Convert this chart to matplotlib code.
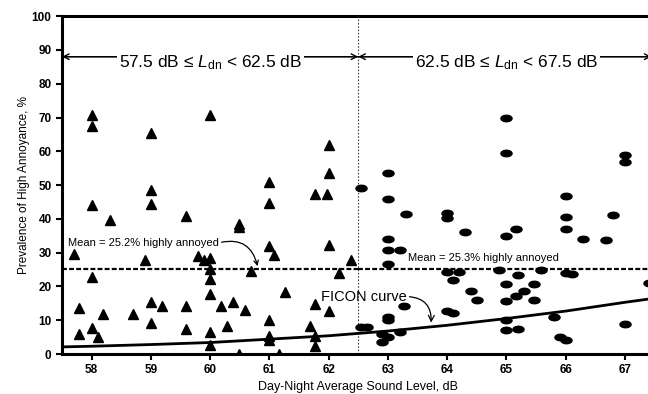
import numpy as np
import matplotlib
matplotlib.use("Agg")
import matplotlib.pyplot as plt
from matplotlib.path import Path

plt.rcParams["font.family"] = ["Liberation Sans", "DejaVu Sans"]
plt.rcParams["mathtext.fontset"] = "custom"
plt.rcParams["mathtext.rm"] = "Liberation Sans"
plt.rcParams["mathtext.it"] = "Liberation Sans:italic"

# triangles: 57.5 <= Ldn < 62.5
tri_x = [57.71, 57.79, 57.79, 58.0, 58.0, 58.0, 58.1, 58.2, 58.31, 58.0, 58.0,
         58.7, 58.9, 59.0, 59.0, 59.0, 59.0, 59.0, 59.19, 59.59, 59.59, 59.59,
         59.8, 59.9, 60.0, 60.0, 60.0, 60.0, 60.0, 60.0, 60.0, 60.19, 60.29,
         60.39, 60.49, 60.49, 60.59, 60.49, 60.69, 61.0, 61.0, 61.0, 61.08,
         61.0, 61.0, 61.0, 61.16, 61.27, 61.68, 61.77, 61.77, 61.77, 61.77,
         61.98, 62.0, 62.0, 62.0, 62.0, 62.18, 62.38]
tri_y = [29.5, 13.5, 5.8, 44.0, 22.8, 7.8, 4.9, 11.7, 39.8, 70.7, 67.5,
         11.7, 27.8, 48.5, 44.3, 15.3, 9.3, 65.3, 14.3, 40.9, 14.3, 7.5,
         29.0, 27.8, 28.5, 25.2, 22.1, 17.7, 6.5, 2.7, 70.7, 14.1, 8.4,
         15.5, 37.5, 38.5, 13.1, 0.0, 24.5, 51.0, 44.8, 32.0, 29.3,
         10.2, 5.3, 4.0, 0.0, 18.4, 8.4, 47.3, 14.9, 5.3, 2.4,
         47.3, 32.4, 12.6, 61.8, 53.6, 24.0, 27.9]

# ellipses: 62.5 <= Ldn < 67.5
ell_x = [62.55, 62.55, 62.65, 62.9, 63.0, 62.9, 63.0, 63.0, 63.0, 63.0, 63.2,
         63.0, 63.0, 63.0, 63.2, 63.27, 63.3, 64.0, 64.0, 64.3, 64.0, 64.2,
         64.1, 64.4, 64.5, 64.0, 64.1, 64.88, 65.0, 65.0, 65.0, 65.0, 65.0,
         65.0, 65.0, 65.2, 65.17, 65.2, 65.3, 65.17, 65.47, 65.47, 65.58,
         65.8, 65.9, 66.0, 66.0, 66.0, 66.0, 66.0, 66.1, 66.3, 66.68, 66.8,
         67.0, 67.0, 67.0, 67.4]
ell_y = [49.0, 7.9, 7.9, 6.0, 5.0, 3.6, 53.7, 45.8, 33.9, 30.9, 30.7,
         26.7, 10.9, 10.0, 6.4, 14.2, 41.3, 41.8, 40.4, 36.0, 24.2, 24.2,
         21.9, 18.6, 15.9, 12.8, 12.2, 25.0, 35.0, 70.0, 59.6, 20.8, 15.8,
         10.0, 7.1, 7.3, 37.1, 23.4, 18.6, 17.1, 20.8, 15.9, 25.0,
         11.0, 5.1, 4.1, 46.8, 40.6, 37.1, 24.1, 23.6, 33.9, 33.7, 41.1,
         58.9, 56.7, 8.8, 21.1]

# FICON curve
ficon_x = [57.5, 58, 59, 60, 61, 62, 63, 64, 65, 66, 67, 67.5]
ficon_y = [2.1, 2.3, 2.8, 3.4, 4.4, 5.4, 6.8, 8.5, 10.5, 12.7, 15.3, 16.5]

mean_left = 25.2
mean_right = 25.3

# flattened ellipse marker
t = np.linspace(0, 2 * np.pi, 40)
ellipse = Path(np.column_stack([np.cos(t), 0.58 * np.sin(t)]), closed=True)

fig = plt.figure(figsize=(6.48, 3.94), dpi=100)
ax = fig.add_axes([0.0957, 0.1015, 0.9043 + 0.01, 0.8575])

ax.plot(ficon_x, ficon_y, color="black", lw=2.0, zorder=3)
ax.plot(tri_x, tri_y, ls="none", marker="^", ms=7, color="black", zorder=4)
ax.plot(ell_x, ell_y, ls="none", marker=ellipse, ms=8, color="black", zorder=4)

ax.plot([57.5, 62.5], [mean_left, mean_left], color="black", lw=1.6,
        dashes=(2.2, 1.0), zorder=2)
ax.plot([62.5, 67.5], [mean_right, mean_right], color="black", lw=1.6,
        dashes=(2.2, 1.0), zorder=2)
ax.axvline(62.5, color="#444444", lw=0.8, ls=(0, (1.5, 1.5)), zorder=1)

# range brackets
arr = dict(arrowstyle="->", lw=1.0, color="black", shrinkA=0, shrinkB=0)
ax.annotate("", xy=(57.5, 88), xytext=(62.5, 88), arrowprops=arr)
ax.annotate("", xy=(62.5, 88), xytext=(57.5, 88), arrowprops=arr)
ax.annotate("", xy=(62.5, 88), xytext=(67.45, 88), arrowprops=arr)
ax.annotate("", xy=(67.45, 88), xytext=(62.5, 88), arrowprops=arr)
box = dict(facecolor="white", edgecolor="none", pad=1.5)
ax.text(60.0, 86.3, "57.5 dB \u2264 $L_{\\mathrm{dn}}$ < 62.5 dB", ha="center",
        va="center", fontsize=12.5, bbox=box, zorder=5)
ax.text(65.0, 86.3, "62.5 dB \u2264 $L_{\\mathrm{dn}}$ < 67.5 dB", ha="center",
        va="center", fontsize=12.5, bbox=box, zorder=5)

ax.annotate("Mean = 25.2% highly annoyed", xy=(60.8, 26.0), xytext=(57.6, 32.9),
            fontsize=8, va="center", ha="left",
            arrowprops=dict(arrowstyle="->", lw=0.9, color="black",
                            connectionstyle="arc3,rad=-0.5",
                            shrinkA=0, shrinkB=0, relpos=(1.0, 0.5)))
ax.text(63.34, 28.5, "Mean = 25.3% highly annoyed", fontsize=8, va="center",
        ha="left")
ax.annotate("FICON curve", xy=(63.73, 9.3), xytext=(61.87, 17.0),
            fontsize=10.5, va="center", ha="left",
            arrowprops=dict(arrowstyle="->", lw=0.9, color="black",
                            connectionstyle="arc3,rad=-0.5",
                            shrinkA=0, shrinkB=0, relpos=(1.0, 0.5)))

ax.set_xlim(57.5, 67.5)
ax.set_ylim(0, 100)
ax.set_xticks(range(58, 68))
ax.set_yticks(range(0, 101, 10))
for lab in ax.get_xticklabels() + ax.get_yticklabels():
    lab.set_fontweight("bold")
ax.tick_params(direction="out", length=4, width=1.5, labelsize=8.5)
for s in ["left", "bottom", "top"]:
    ax.spines[s].set_linewidth(2.2)
ax.spines["right"].set_visible(False)

ax.set_xlabel("Day-Night Average Sound Level, dB", fontsize=9, labelpad=3)
ax.set_ylabel("Prevalence of High Annoyance, %", fontsize=8.5, labelpad=1)

fig.savefig("out.png", dpi=100)
